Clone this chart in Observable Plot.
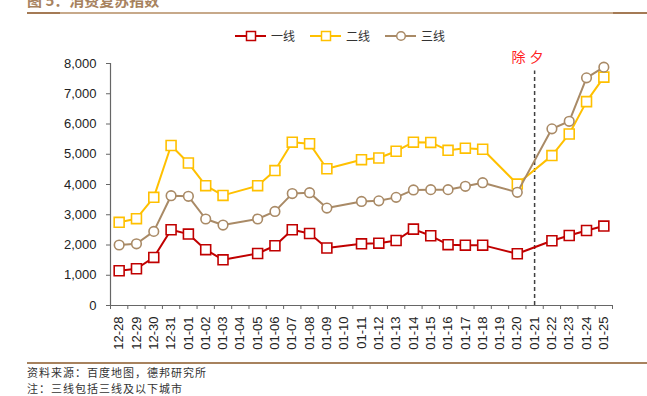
<!DOCTYPE html>
<html><head><meta charset="utf-8">
<script src="https://cdn.jsdelivr.net/npm/d3@7"></script>
<script src="https://cdn.jsdelivr.net/npm/@observablehq/plot@0.6"></script>
<style>
body{margin:0;background:#fff;}
#wrap{position:relative;width:647px;height:396px;overflow:hidden;font-family:"Noto Sans CJK SC","Noto Sans",sans-serif;}
#title{position:absolute;left:27px;top:-11px;font-size:15px;font-weight:bold;color:#a7825e;white-space:nowrap;}
#topline{position:absolute;left:27px;top:12px;width:620px;height:2px;background:#c7a98a;}
#topline .l{position:absolute;left:0;top:0;width:33px;height:2px;background:#a47a55;}
#topline .r{position:absolute;right:0;top:0;width:34px;height:2px;background:#a47a55;}
#legend{position:absolute;left:235px;top:27px;display:flex;align-items:center;font-size:12px;color:#333;}
#legend .item{display:flex;align-items:center;margin-right:15px;}
#legend svg{margin-right:5px;}
#chart{position:absolute;left:0;top:45px;}
#botline{position:absolute;left:27px;top:362px;width:620px;height:1.5px;background:#a7825e;}
#foot{position:absolute;left:27px;top:364px;font-size:11px;letter-spacing:1px;color:#333;white-space:nowrap;line-height:16px;}
.eve text{letter-spacing:4px;}
</style></head><body>
<div id="wrap">
  <div id="title">图 5：消费复苏指数</div>
  <div id="topline"><div class="l"></div><div class="r"></div></div>
  <div id="legend"></div>
  <div id="chart"></div>
  <div id="botline"></div>
  <div id="foot">资料来源：百度地图，德邦研究所<br>注：三线包括三线及以下城市</div>
</div>
<script>
const dates = ["12-28","12-29","12-30","12-31","01-01","01-02","01-03","01-04","01-05","01-06","01-07","01-08","01-09","01-10","01-11","01-12","01-13","01-14","01-15","01-16","01-17","01-18","01-19","01-20","01-21","01-22","01-23","01-24","01-25"];
const seriesNames = ["一线","二线","三线"];
const tier1 = [1150,1215,1590,2505,2360,1845,1510,null,1720,1975,2505,2380,1900,null,2040,2060,2150,2525,2305,2010,1995,1995,null,1710,null,2140,2315,2480,2625];
const tier2 = [2750,2870,3575,5290,4710,3960,3640,null,3960,4460,5400,5350,4520,null,4820,4875,5100,5400,5390,5130,5200,5165,null,4015,null,4955,5670,6740,7550];
const tier3 = [2000,2040,2450,3630,3610,2860,2660,null,2860,3110,3700,3730,3220,null,3440,3460,3575,3820,3830,3830,3940,4060,null,3740,null,5840,6090,7525,7880];
const yTicks = [0,1000,2000,3000,4000,5000,6000,7000,8000];
const eveDate = "01-21";
const eveLabel = "除夕";
const colors = ["#C00000","#FFC000","#A98a66"];
const symbols = ["square","square","circle"];

const allSeries = [tier1, tier2, tier3];
const rows = [];
allSeries.forEach((vals, s) => vals.forEach((v, i) => { if (v != null) rows.push({name: seriesNames[s], i, v}); }));
const idx = dates.map((d, i) => i);
const bounds = d3.range(dates.length + 1).map(i => i - 0.5);
const eveIdx = dates.indexOf(eveDate);

// legend
const legend = document.getElementById("legend");
seriesNames.forEach((n, s) => {
  const item = document.createElement("div");
  item.className = "item";
  const mk = symbols[s] === "circle"
    ? `<circle cx="16" cy="6" r="4.3" fill="#fff" stroke="${colors[s]}" stroke-width="1.5"/>`
    : `<rect x="11.5" y="1.5" width="9" height="9" fill="#fff" stroke="${colors[s]}" stroke-width="1.5"/>`;
  item.innerHTML = `<svg width="31" height="12"><line x1="0" x2="31" y1="6" y2="6" stroke="${colors[s]}" stroke-width="2"/>${mk}</svg><span>${n}</span>`;
  legend.appendChild(item);
});

const seriesMarks = [];
seriesNames.forEach((n, s) => {
  const d = rows.filter(r => r.name === n);
  seriesMarks.push(Plot.line(d, {x: "i", y: "v", stroke: colors[s], strokeWidth: 2}));
  seriesMarks.push(Plot.dot(d, {x: "i", y: "v", symbol: symbols[s], r: symbols[s] === "circle" ? 4.8 : 5.6, fill: "#fff", stroke: colors[s], strokeWidth: 1.6}));
});

const chart = Plot.plot({
  width: 647, height: 310,
  marginTop: 18, marginBottom: 50, marginLeft: 110, marginRight: 35,
  style: {fontFamily: "'Liberation Sans', Arial, sans-serif", fontSize: "13px", color: "#222", background: "transparent"},
  x: {type: "linear", domain: [-0.5, dates.length - 0.5]},
  y: {domain: [0, 8000]},
  marks: [
    Plot.axisY({ticks: yTicks, tickFormat: d3.format(","), tickSize: 4, tickPadding: 10, label: null, stroke: "#666", fontSize: 13}),
    Plot.axisX({ticks: bounds, tickFormat: () => "", tickSize: 4, label: null, stroke: "#666"}),
    Plot.axisX({ticks: idx, tickFormat: i => dates[i], tickRotate: -90, tickSize: 0, tickPadding: 11, label: null, fontSize: 13}),
    Plot.ruleY([0], {stroke: "#666", strokeWidth: 1.2}),
    Plot.ruleX([-0.5], {stroke: "#666", strokeWidth: 1.2}),
    Plot.ruleX([eveIdx], {y1: 0, y2: 7750, stroke: "#404040", strokeWidth: 1.5, strokeDasharray: "4,3"}),
    Plot.text([eveLabel], {x: () => eveIdx, y: () => 8000, dx: -5, dy: -6, fill: "#FF2020", fontSize: 14, fontFamily: "'Noto Sans CJK SC', sans-serif", className: "eve"}),
    ...seriesMarks
  ]
});
document.getElementById("chart").appendChild(chart);
</script>
</body></html>
